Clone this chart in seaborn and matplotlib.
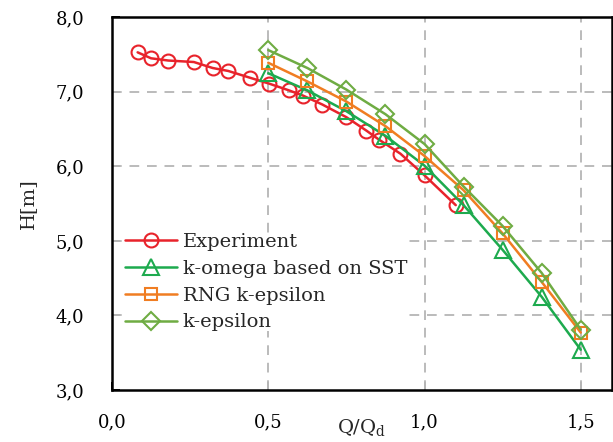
import numpy as np
import pandas as pd
import seaborn as sns
import matplotlib
matplotlib.use("Agg")
import matplotlib.pyplot as plt
from matplotlib.ticker import FuncFormatter

# Pump head curve: measurement vs. three turbulence models
q_exp = [0.082, 0.125, 0.18, 0.262, 0.322, 0.372, 0.441, 0.503, 0.566, 0.611,
         0.673, 0.75, 0.814, 0.854, 0.923, 1.0, 1.10]
h_exp = [7.53, 7.45, 7.42, 7.40, 7.32, 7.28, 7.19, 7.11, 7.02, 6.95,
         6.83, 6.66, 6.48, 6.36, 6.17, 5.88, 5.48]

q_cfd = [0.5, 0.625, 0.75, 0.875, 1.0, 1.125, 1.25, 1.375, 1.5]
h_sst = [7.25, 7.02, 6.74, 6.41, 6.01, 5.48, 4.88, 4.25, 3.54]
h_rng = [7.39, 7.14, 6.87, 6.54, 6.14, 5.68, 5.10, 4.45, 3.77]
h_ke = [7.56, 7.32, 7.03, 6.70, 6.30, 5.73, 5.20, 4.57, 3.81]

labels = ["Experiment", "k-omega based on SST", "RNG k-epsilon", "k-epsilon"]
colors = ["#E8232B", "#1DAA4E", "#F07D22", "#6FAC43"]
markers = ["o", "^", "s", "D"]
msizes = [10, 11, 9, 9]

x_ticks = [0.0, 0.5, 1.0, 1.5]
y_ticks = [3.0, 4.0, 5.0, 6.0, 7.0, 8.0]

sns.set_theme(style="white")
plt.rcParams["font.family"] = ["DejaVu Serif"]
plt.rcParams["mathtext.fontset"] = "dejavuserif"

fig = plt.figure(figsize=(6.13, 4.42), dpi=100)
ax = fig.add_axes([112 / 613, 52 / 442, 500 / 613, 372.7 / 442])

series = [(q_exp, h_exp), (q_cfd, h_sst), (q_cfd, h_rng), (q_cfd, h_ke)]
for (xs, ys), lab, col, mk, ms in zip(series, labels, colors, markers, msizes):
    df = pd.DataFrame({"Q": xs, "H": ys})
    sns.lineplot(data=df, x="Q", y="H", ax=ax, sort=False, label=lab,
                 color=col, marker=mk, markersize=ms, markerfacecolor="none",
                 markeredgecolor=col, markeredgewidth=1.5, linewidth=1.8,
                 zorder=3)

ax.set_xlim(0, 1.6)
ax.set_ylim(3.0, 8.0)
ax.set_xticks(x_ticks)
ax.set_yticks(y_ticks)
comma = FuncFormatter(lambda v, p: f"{v:.1f}".replace(".", ","))
ax.xaxis.set_major_formatter(comma)
ax.yaxis.set_major_formatter(comma)

ax.grid(False)
for gx in x_ticks[1:]:
    ax.axvline(gx, color="#BBBBBB", linestyle=(0, (5, 4)), linewidth=1.4, zorder=1)
for gy in y_ticks[1:-1]:
    ax.axhline(gy, color="#BBBBBB", linestyle=(0, (5, 4)), linewidth=1.4, zorder=1)

for sp in ax.spines.values():
    sp.set_color("black")
    sp.set_linewidth(1.8)

ax.tick_params(axis="both", direction="in", length=6, width=1.4, colors="black",
               labelsize=13)
ax.tick_params(axis="x", pad=17, bottom=True)
ax.tick_params(axis="y", pad=20, left=True)

ax.set_xlabel(r"Q/Q$_{\mathrm{d}}$", fontsize=14)
ax.set_ylabel("H[m]", fontsize=14)
ax.xaxis.set_label_coords(0.5, -0.072)
ax.yaxis.set_label_coords(-0.15, 0.5)

leg = ax.legend(loc="upper left", bbox_to_anchor=(0.025, 0.421), fontsize=14,
                frameon=True, framealpha=1.0, facecolor="white", edgecolor="none",
                borderpad=0.0, borderaxespad=0.0, handlelength=2.7,
                handletextpad=0.3, labelspacing=0.45, fancybox=False)
leg.set_zorder(2)

fig.savefig("out.png", dpi=100)
